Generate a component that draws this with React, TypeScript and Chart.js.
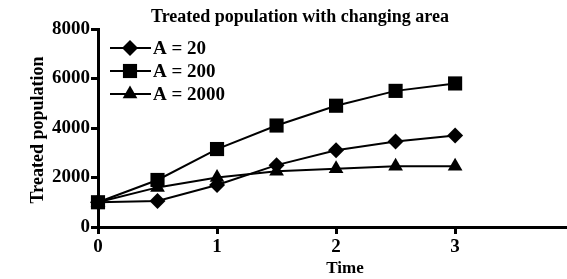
import React, { useEffect, useRef } from "react";
import { Chart, registerables } from "chart.js";

Chart.register(...registerables);

const times = [0, 0.5, 1, 1.5, 2, 2.5, 3];
const seriesA20 = [1000, 1050, 1700, 2500, 3100, 3450, 3700];
const seriesA200 = [1000, 1900, 3150, 4100, 4900, 5500, 5800];
const seriesA2000 = [1000, 1600, 2000, 2250, 2350, 2450, 2450];
const seriesLabels = ["A = 20", "A = 200", "A = 2000"];
const pointStyles = ["rectRot", "rect", "triangle"];
const pointRadii = [8, 10, 8.5];
const titleText = "Treated population with changing area";
const xTitle = "Time";
const yTitle = "Treated population";
const yTicks = [0, 2000, 4000, 6000, 8000];
const xTicks = [0, 1, 2, 3];

const FONT = "'Liberation Serif', 'Times New Roman', serif";

function drawMarker(ctx: CanvasRenderingContext2D, style: string, r: number, x: number, y: number) {
  ctx.beginPath();
  if (style === "rect") {
    const s = Math.SQRT1_2 * r;
    ctx.rect(x - s, y - s, 2 * s, 2 * s);
  } else if (style === "rectRot") {
    ctx.moveTo(x, y - r);
    ctx.lineTo(x + r, y);
    ctx.lineTo(x, y + r);
    ctx.lineTo(x - r, y);
    ctx.closePath();
  } else {
    const a = -Math.PI / 2;
    for (let k = 0; k < 3; k++) {
      const ang = a + (k * 2 * Math.PI) / 3;
      const px = x + Math.cos(ang) * r;
      const py = y + Math.sin(ang) * r;
      if (k === 0) ctx.moveTo(px, py);
      else ctx.lineTo(px, py);
    }
    ctx.closePath();
  }
  ctx.fill();
}

export default function App() {
  const ref = useRef<HTMLCanvasElement>(null);
  useEffect(() => {
    document.body.style.margin = "0";
    const mk = (label: string, vals: number[], i: number) => ({
      label,
      data: times.map((t, k) => ({ x: t, y: vals[k] })),
      borderColor: "#000",
      backgroundColor: "#000",
      borderWidth: 2,
      pointStyle: pointStyles[i],
      pointRadius: pointRadii[i],
      pointBorderWidth: 0,
      pointBackgroundColor: "#000",
      clip: false as any,
    });
    const chart = new Chart(ref.current!, {
      type: "scatter",
      data: {
        datasets: [
          mk(seriesLabels[0], seriesA20, 0),
          mk(seriesLabels[1], seriesA200, 1),
          mk(seriesLabels[2], seriesA2000, 2),
        ],
      },
      options: {
        animation: false,
        responsive: false,
        showLine: true,
        layout: { autoPadding: false, padding: { top: 29, right: 0, left: 0, bottom: 0 } },
        plugins: { legend: { display: false }, title: { display: false }, tooltip: { enabled: false } },
        scales: {
          x: {
            type: "linear",
            min: 0,
            max: 3.94,
            afterFit: (s: any) => {
              s.height = 52;
            },
            afterBuildTicks: (s: any) => {
              s.ticks = xTicks.map((v) => ({ value: v }));
            },
            grid: { display: true, drawOnChartArea: false, drawTicks: true, tickLength: 7, tickWidth: 3, tickColor: "#000" },
            border: { display: true, color: "#000", width: 3 },
            ticks: {
              color: "#000",
              font: { family: FONT, size: 19, weight: "bold" },
              padding: 2,
              callback: (v: any) => String(v),
            },
          },
          y: {
            type: "linear",
            min: 0,
            max: 8000,
            afterFit: (s: any) => {
              s.width = 98;
            },
            afterBuildTicks: (s: any) => {
              s.ticks = yTicks.map((v) => ({ value: v }));
            },
            grid: { display: true, drawOnChartArea: false, drawTicks: true, tickLength: 7, tickWidth: 3, tickColor: "#000" },
            border: { display: true, color: "#000", width: 3 },
            ticks: {
              color: "#000",
              font: { family: FONT, size: 19, weight: "bold" },
              padding: 1,
              callback: (v: any) => String(v),
            },
          },
        },
      },
      plugins: [
        {
          id: "texts",
          afterDraw(chart: any) {
            const ctx = chart.ctx;
            ctx.save();
            ctx.fillStyle = "#000";
            ctx.textAlign = "center";
            ctx.textBaseline = "middle";
            ctx.font = `bold 18px ${FONT}`;
            ctx.fillText(titleText, 300, 17);
            ctx.font = `bold 17px ${FONT}`;
            ctx.fillText(xTitle, 345, 269);
            ctx.save();
            ctx.translate(38, 130);
            ctx.rotate(-Math.PI / 2);
            ctx.font = `bold 18px ${FONT}`;
            ctx.fillText(yTitle, 0, 0);
            ctx.restore();
            const rows = [48, 71, 94];
            chart.data.datasets.forEach((ds: any, i: number) => {
              const y = rows[i];
              ctx.strokeStyle = "#000";
              ctx.lineWidth = 2;
              ctx.beginPath();
              ctx.moveTo(110, y);
              ctx.lineTo(151, y);
              ctx.stroke();
              ctx.fillStyle = "#000";
              drawMarker(ctx, ds.pointStyle, ds.pointRadius, 130, y);
              ctx.textAlign = "left";
              ctx.font = `bold 19px ${FONT}`;
              ctx.fillText(ds.label, 153, y + 1);
            });
            ctx.restore();
          },
        },
      ],
    });
    return () => chart.destroy();
  }, []);
  return (
    <div style={{ position: "absolute", left: 0, top: 0, width: 567, height: 279, background: "#fff" }}>
      <canvas ref={ref} width={567} height={279} style={{ width: 567, height: 279 }} />
    </div>
  );
}
